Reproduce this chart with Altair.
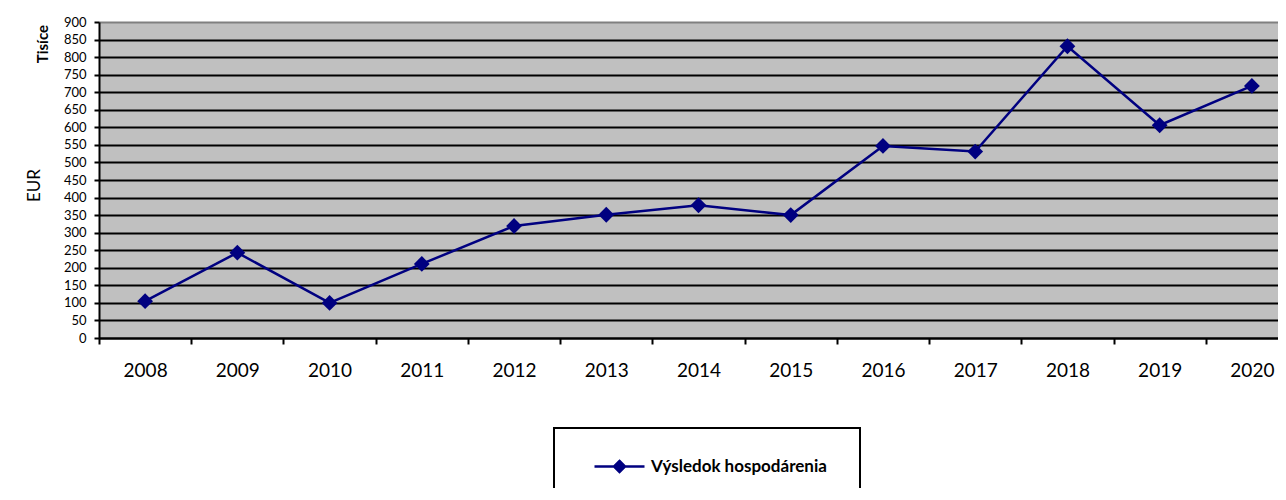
import altair as alt
import pandas as pd

# ---- data ----
years = ["2008", "2009", "2010", "2011", "2012", "2013", "2014",
         "2015", "2016", "2017", "2018", "2019", "2020"]
values = [105, 243, 100, 211, 319, 351, 378, 350, 547, 531, 831, 606, 718]
series_name = "Výsledok hospodárenia"
y_ticks = list(range(0, 901, 50))
y_title = "EUR"
unit_label = "Tisíce"

df = pd.DataFrame({
    "rok": years,
    "hodnota": values,
    "seria": [series_name] * len(years),
})
unit_df = pd.DataFrame({"t": [unit_label]})

FONT = "Lato"
NAVY = "#000080"
legend_symbol = "M-1,0L1,0M0,-0.22L0.22,0L0,0.22L-0.22,0Z"

x_enc = alt.X(
    "rok:O", sort=years, title=None,
    scale=alt.Scale(type="band", paddingInner=0, paddingOuter=0, range=[0, 1199]),
    axis=alt.Axis(
        labelAngle=0, labelFontSize=19, labelFont=FONT, labelColor="#000000",
        labelPadding=17, tickBand="extent", tickSize=6, tickWidth=2,
        tickColor="#000000", domainColor="#000000", domainWidth=2, grid=False,
    ),
)
y_enc = alt.Y(
    "hodnota:Q",
    scale=alt.Scale(domain=[0, 900], nice=False, zero=True),
    axis=alt.Axis(
        values=y_ticks, grid=True, gridWidth=2,
        gridColor=alt.condition("datum.value >= 900", alt.value("#808080"), alt.value("#000000")),
        tickSize=5, tickWidth=2, tickColor="#000000",
        domainColor="#000000", domainWidth=2,
        labelFontSize=13, labelFont=FONT, labelColor="#000000", labelPadding=8,
        title=y_title, titleFont=FONT, titleFontSize=17, titleFontWeight="normal",
        titleColor="#000000", titleAngle=270, titleX=-65, titleY=163,
        titleAlign="center", titleBaseline="middle",
    ),
)

line = alt.Chart(df).mark_line(
    strokeWidth=2.5,
    point=alt.OverlayMarkDef(shape="diamond", size=250, filled=True),
).encode(
    x=x_enc,
    y=y_enc,
    color=alt.Color(
        "seria:N",
        scale=alt.Scale(range=[NAVY]),
        legend=alt.Legend(
            title=" ", titleOrient="right", titlePadding=21, titleFontSize=8,
            orient="none", legendX=455, legendY=406,
            padding=12, symbolOffset=27, symbolType=legend_symbol,
            symbolSize=2500, symbolStrokeWidth=2.5,
            symbolFillColor=NAVY, symbolStrokeColor=NAVY,
            labelFont=FONT, labelFontSize=17, labelFontWeight="bold",
            labelColor="#000000", labelOffset=5, labelLimit=400,
            strokeColor="#000000",
        ),
    ),
)

unit_text = alt.Chart(unit_df).mark_text(
    angle=270, align="right", baseline="middle",
    font=FONT, fontSize=15, fontWeight="bold", color="#000000",
).encode(
    text="t:N",
    x=alt.value(-56),
    y=alt.value(3),
)

chart = alt.layer(line, unit_text).properties(
    width=1179,
    height=316,
    autosize=alt.AutoSizeParams(type="none"),
    padding={"left": 91, "top": 14, "right": 0, "bottom": 150},
    background="#FFFFFF",
).configure_view(
    fill="#C0C0C0", strokeWidth=0,
).configure_legend(
    strokeWidth=2,
)

chart.save("out.html", embed_options={"renderer": "svg", "actions": False})
